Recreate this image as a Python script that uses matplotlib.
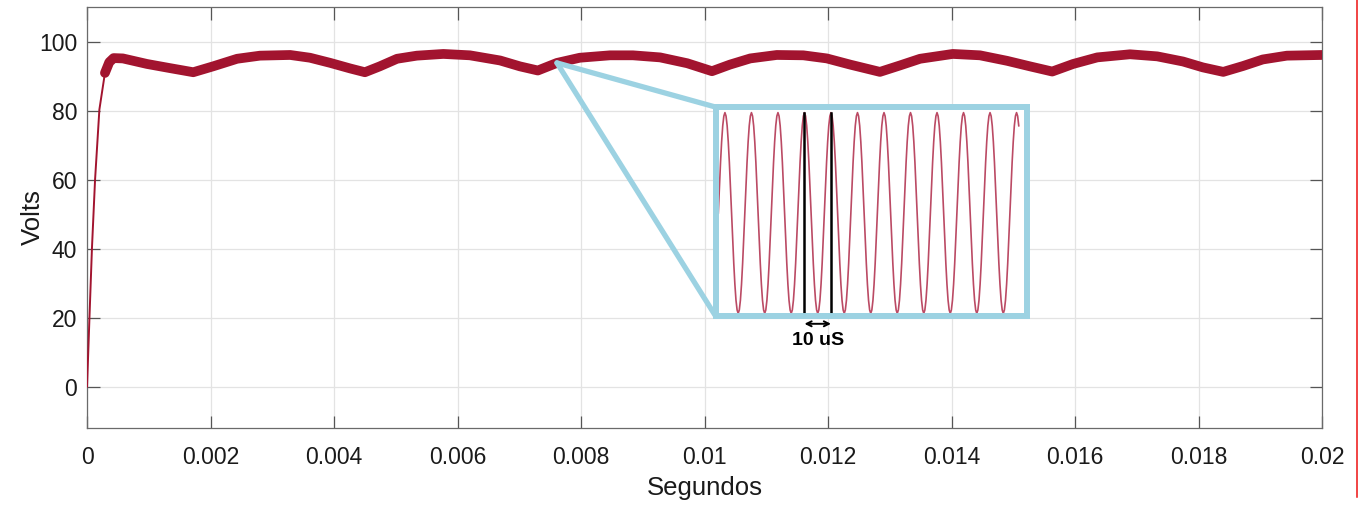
import numpy as np
import matplotlib
matplotlib.use("Agg")
from matplotlib import pyplot as plt
from matplotlib.lines import Line2D

plt.rcParams['font.family'] = ['Liberation Sans', 'DejaVu Sans']

# Output voltage (centre of the ripple band)
t_s = [0, 0.00004, 0.00008, 0.00013, 0.00020, 0.00029, 0.00036, 0.00043, 0.00058,
       0.00097, 0.00134, 0.00172, 0.00204, 0.00243, 0.00280,
       0.00329, 0.00361, 0.00394, 0.00426, 0.00450, 0.00474, 0.00502, 0.00534, 0.00577, 0.00620,
       0.00669, 0.00701, 0.00730, 0.00761, 0.00798, 0.00847, 0.00884, 0.00928, 0.00972,
       0.01012, 0.01041, 0.01074, 0.01117, 0.01160, 0.01198, 0.01236, 0.01284, 0.01317, 0.01349,
       0.01402, 0.01446, 0.01490, 0.01527, 0.01563, 0.01597, 0.01636, 0.01689,
       0.01733, 0.01775, 0.01807, 0.01840, 0.01872, 0.01904, 0.01943, 0.02000]
volts = [0, 20.4, 40.3, 60.0, 80.3, 90.9, 94.0, 95.2, 95.1,
         93.5, 92.3, 91.1, 92.8, 95.0, 95.9,
         96.1, 95.3, 93.8, 92.2, 91.1, 92.8, 95.0, 95.9, 96.4, 96.0,
         94.5, 92.8, 91.6, 93.8, 95.3, 96.0, 96.0, 95.4, 93.7,
         91.4, 93.3, 95.1, 96.1, 96.0, 95.1, 93.3, 91.2, 93.1, 95.0,
         96.4, 96.0, 94.4, 92.8, 91.3, 93.5, 95.4, 96.3,
         95.7, 94.2, 92.5, 91.2, 92.9, 94.8, 95.9, 96.1]
ripple_from = 5  # index where the ripple band becomes visible

x_ticks = [0, 0.002, 0.004, 0.006, 0.008, 0.01, 0.012, 0.014, 0.016, 0.018, 0.02]
x_labels = ["0", "0.002", "0.004", "0.006", "0.008", "0.01", "0.012", "0.014", "0.016", "0.018", "0.02"]
y_ticks = [0, 20, 40, 60, 80, 100]

# zoomed ripple: one period, from the rising crossing
ripple_cycle = [96.0, 96.38, 96.73, 97.03, 97.26, 97.40, 97.45, 97.40, 97.26, 97.03, 96.73, 96.38,
                96.0, 95.62, 95.27, 94.97, 94.74, 94.60, 94.55, 94.60, 94.74, 94.97, 95.27, 95.62]
ripple_period_us = 10.0
ripple_start_us = 1.0
ripple_end_us = 114.5
marked_peaks_us = [33.5, 43.5]

# zoom link: point on the curve and inset box (data coords)
zoom_pt = (0.00761, 93.8)
inset_box = [0.01018, 20.4, 0.00504, 60.6]

dark_red = "#A2142F"
light_blue = "#9cd2e2"

fig = plt.figure(figsize=(13.6, 5.08), dpi=100)
ax = fig.add_axes([0.0640, 0.1575, 0.9081, 0.8287])

ax.plot(t_s, volts, color=dark_red, lw=1.4, zorder=3)
ax.plot(t_s[ripple_from:], volts[ripple_from:], color=dark_red, lw=7.0,
        solid_joinstyle="round", solid_capstyle="round", zorder=3)

ax.set_xlim(0, 0.02)
ax.set_ylim(-12, 110)
ax.set_xticks(x_ticks)
ax.set_xticklabels(x_labels)
ax.set_yticks(y_ticks)
ax.grid(True, color="#e3e3e3", lw=0.9)
ax.set_axisbelow(True)
ax.tick_params(direction="in", length=9, width=0.9, color="#555555",
               top=True, right=True, labelsize=16.5, labelcolor="#1a1a1a")
ax.tick_params(axis="x", pad=13)
ax.tick_params(axis="y", pad=7)
for s in ax.spines.values():
    s.set_color("#6a6a6a")
    s.set_linewidth(0.9)
ax.set_xlabel("Segundos", fontsize=18.5, labelpad=5, color="#1a1a1a")
ax.set_ylabel("Volts", fontsize=18.5, labelpad=-4, color="#1a1a1a")

# lines linking the curve to the inset
x0, y0, w, h = inset_box
for cy in (y0 + h, y0):
    ax.plot([zoom_pt[0], x0], [zoom_pt[1], cy], color=light_blue, lw=3.8,
            solid_capstyle="round", zorder=4)

ins = ax.inset_axes(inset_box, transform=ax.transData, zorder=5)
n = int(round((ripple_end_us - ripple_start_us) / ripple_period_us * len(ripple_cycle))) + 1
ins_t = ripple_start_us + np.arange(n) * ripple_period_us / len(ripple_cycle)
ins_v = np.tile(ripple_cycle, n // len(ripple_cycle) + 1)[:n]
ins.plot(ins_t, ins_v, color="#bb4a64", lw=1.2)
ins.set_xlim(0, 117.4)
ins.set_ylim(94.51, 97.53)
ins.set_xticks([])
ins.set_yticks([])
for s in ins.spines.values():
    s.set_color(light_blue)
    s.set_linewidth(4.3)
pk = max(ripple_cycle)
for xp in marked_peaks_us:
    ins.plot([xp, xp], [pk, 94.51], color="black", lw=1.8)
ins.annotate("", xy=(marked_peaks_us[0], 94.40), xytext=(marked_peaks_us[1], 94.40),
             xycoords="data", annotation_clip=False,
             arrowprops=dict(arrowstyle="<->", color="black", lw=1.4,
                             shrinkA=0, shrinkB=0, mutation_scale=9))
ins.text(np.mean(marked_peaks_us), 94.16, "10 uS", ha="center", va="center",
         fontsize=14, fontweight="bold", clip_on=False)

# thin red rule at the right edge of the page
fig.add_artist(Line2D([0.9976, 0.9976], [0.0217, 1.0], color="#ee1111", lw=1.1,
                      transform=fig.transFigure))

fig.savefig("out.png", dpi=100)
